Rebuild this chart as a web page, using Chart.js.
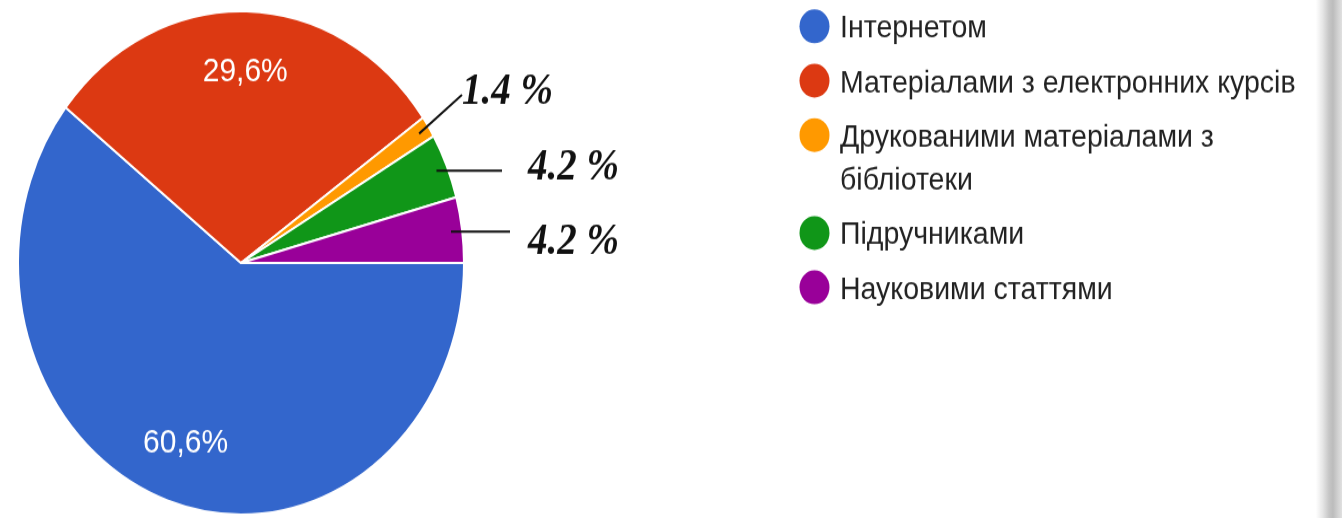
<!DOCTYPE html>
<html><head><meta charset="utf-8">
<script src="https://cdn.jsdelivr.net/npm/chart.js@4"></script>
<style>
html,body{margin:0;padding:0;background:#fff;overflow:hidden;width:1342px;height:518px;}
#wrap{position:absolute;left:0;top:0;width:1342px;height:459px;transform:scaleY(1.1285);transform-origin:0 0;}
#shadow{position:absolute;top:0;left:1316px;width:26px;height:518px;background:linear-gradient(to right,rgba(255,255,255,0) 0%,#e6e6e6 25%,#c6c6c6 50%,#bcbcbc 65%,#d2d2d2 85%,#e0e0e0 100%);}
</style></head><body>
<div id="wrap"><canvas id="c" width="1342" height="459"></canvas></div>
<div id="shadow"></div>
<script>
// ---- data ----
const categories = ['Інтернетом', 'Матеріалами з електронних курсів', 'Друкованими матеріалами з бібліотеки', 'Підручниками', 'Науковими статтями'];
const values = [60.6, 29.6, 1.4, 4.2, 4.2];
const sliceLabels = ['60,6%', '29,6%', '', '', ''];
const calloutLabels = ['', '', '1.4 %', '4.2 %', '4.2 %'];
const colors = ['#3366cc', '#dc3912', '#ff9900', '#109618', '#990099'];

// callout layout (annotation text / leader end positions)
const calloutLayout = [null, null,
  {endX: 462, endY: 84, tx: 462, ty: 82},
  {endX: 502, endY: null, tx: 528, ty: 149},
  {endX: 510, endY: null, tx: 528, ty: 214.5}
];

const labelPlugin = {
  id: 'sliceLabels',
  afterDatasetsDraw(chart) {
    const ctx = chart.ctx;
    const meta = chart.getDatasetMeta(0);
    meta.data.forEach((arc, i) => {
      const p = arc.getProps(['x', 'y', 'startAngle', 'endAngle', 'outerRadius'], true);
      const mid = (p.startAngle + p.endAngle) / 2;
      if (sliceLabels[i]) {
        ctx.save();
        ctx.fillStyle = '#ffffff';
        ctx.font = '30px "Liberation Sans", Arial, sans-serif';
        ctx.textAlign = 'center';
        ctx.textBaseline = 'middle';
        ctx.fillText(sliceLabels[i], p.x + Math.cos(mid) * p.outerRadius * 0.76, p.y + Math.sin(mid) * p.outerRadius * 0.76);
        ctx.restore();
      }
      if (calloutLabels[i]) {
        const L = calloutLayout[i];
        const sx = p.x + Math.cos(mid) * p.outerRadius * 0.95;
        const sy = p.y + Math.sin(mid) * p.outerRadius * 0.95;
        ctx.save();
        ctx.strokeStyle = '#111';
        ctx.lineWidth = 2;
        ctx.beginPath();
        ctx.moveTo(sx, sy);
        ctx.lineTo(L.endX, L.endY === null ? sy : L.endY);
        ctx.stroke();
        ctx.fillStyle = '#111';
        ctx.font = 'italic bold 39px "Liberation Serif", "Times New Roman", serif';
        ctx.textAlign = 'left';
        ctx.textBaseline = 'middle';
        ctx.fillText(calloutLabels[i], L.tx, L.ty);
        ctx.restore();
      }
    });
  }
};

function wrapText(ctx, text, maxW) {
  const words = text.split(' ');
  const lines = [];
  let cur = '';
  words.forEach(w => {
    const t = cur ? cur + ' ' + w : w;
    if (ctx.measureText(t).width > maxW && cur) { lines.push(cur); cur = w; }
    else cur = t;
  });
  if (cur) lines.push(cur);
  return lines;
}

const legendPlugin = {
  id: 'customLegend',
  afterDraw(chart) {
    const ctx = chart.ctx;
    ctx.save();
    ctx.font = '28.5px "Liberation Sans", Arial, sans-serif';
    ctx.textAlign = 'left';
    ctx.textBaseline = 'alphabetic';
    let y = 23.3;
    categories.forEach((c, i) => {
      const lines = wrapText(ctx, c, 470);
      ctx.fillStyle = colors[i];
      ctx.beginPath();
      ctx.arc(814.5, y, 15, 0, Math.PI * 2);
      ctx.fill();
      ctx.fillStyle = '#222222';
      lines.forEach((ln, k) => ctx.fillText(ln, 840, y + 10 + k * 38.5));
      y += 48.2 + (lines.length - 1) * 38.5;
    });
    ctx.restore();
  }
};

new Chart(document.getElementById('c'), {
  type: 'pie',
  data: {
    labels: categories,
    datasets: [{
      data: values,
      backgroundColor: colors,
      borderColor: '#ffffff',
      borderWidth: 2
    }]
  },
  options: {
    responsive: false,
    animation: false,
    devicePixelRatio: 1,
    rotation: 90,
    layout: {padding: {left: 17, top: 9, right: 877, bottom: 2}},
    plugins: {legend: {display: false}, tooltip: {enabled: false}}
  },
  plugins: [labelPlugin, legendPlugin]
});
</script>
</body></html>
